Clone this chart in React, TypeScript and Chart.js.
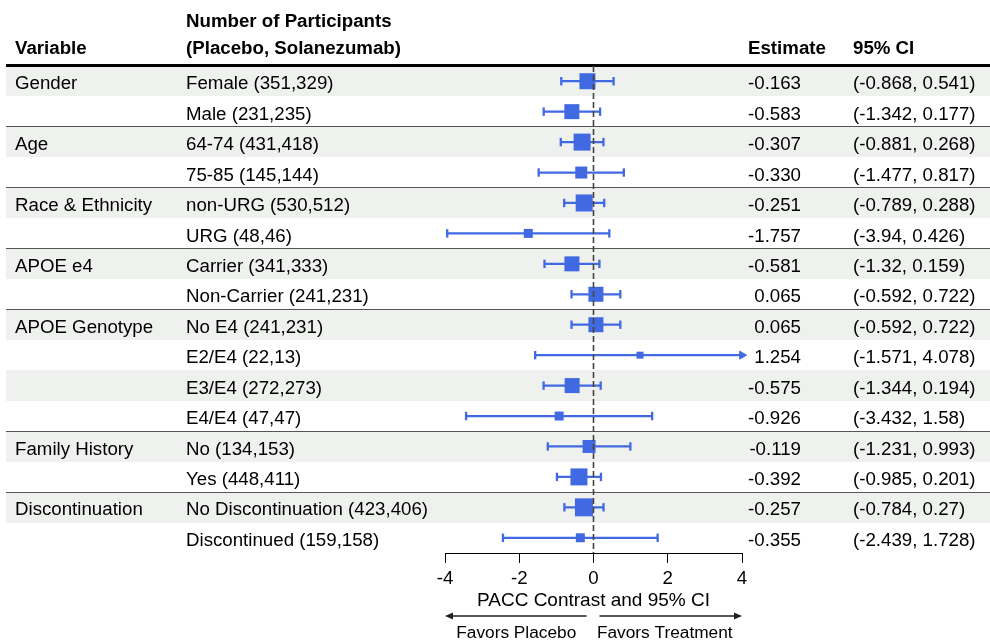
import React, { useEffect, useRef } from "react";
import { Chart, registerables } from "chart.js";

Chart.register(...registerables);

// ---------- data ----------
const variables = [
  "Gender", "",
  "Age", "",
  "Race & Ethnicity", "",
  "APOE e4", "",
  "APOE Genotype", "", "", "",
  "Family History", "",
  "Discontinuation", "",
];
const subgroups = [
  "Female (351,329)", "Male (231,235)",
  "64-74 (431,418)", "75-85 (145,144)",
  "non-URG (530,512)", "URG (48,46)",
  "Carrier (341,333)", "Non-Carrier (241,231)",
  "No E4 (241,231)", "E2/E4 (22,13)", "E3/E4 (272,273)", "E4/E4 (47,47)",
  "No (134,153)", "Yes (448,411)",
  "No Discontinuation (423,406)", "Discontinued (159,158)",
];
const estimates = [
  -0.163, -0.583,
  -0.307, -0.33,
  -0.251, -1.757,
  -0.581, 0.065,
  0.065, 1.254, -0.575, -0.926,
  -0.119, -0.392,
  -0.257, -0.355,
];
const lower = [
  -0.868, -1.342,
  -0.881, -1.477,
  -0.789, -3.94,
  -1.32, -0.592,
  -0.592, -1.571, -1.344, -3.432,
  -1.231, -0.985,
  -0.784, -2.439,
];
const upper = [
  0.541, 0.177,
  0.268, 0.817,
  0.288, 0.426,
  0.159, 0.722,
  0.722, 4.078, 0.194, 1.58,
  0.993, 0.201,
  0.27, 1.728,
];
const xTicks = [-4, -2, 0, 2, 4];
const xTitle = "PACC Contrast and 95% CI";
const favorsLeft = "Favors Placebo";
const favorsRight = "Favors Treatment";
const headers = {
  variable: "Variable",
  participants1: "Number of Participants",
  participants2: "(Placebo, Solanezumab)",
  estimate: "Estimate",
  ci: "95% CI",
};

// ---------- styles ----------
const markerSide = [16, 15, 17, 12, 17, 9, 15, 15, 15, 7, 15, 9, 13, 17, 18, 9];
const BLUE = "#4169E1";
const BAND = "#eef1ee";
const FONT = '"Liberation Sans", Arial, Helvetica, sans-serif';
const FS = 18.7;
const X_MIN = -4;
const X_MAX = 4;

const tablePlugin = {
  id: "forestTable",
  beforeDraw(chart: any) {
    const { ctx } = chart;
    const y = chart.scales.y;
    ctx.save();
    ctx.fillStyle = "#ffffff";
    ctx.fillRect(0, 0, chart.width, chart.height);
    // bands
    ctx.fillStyle = BAND;
    for (let i = 0; i < subgroups.length; i += 2) {
      const t = Math.round(y.getPixelForValue(i - 0.5));
      const b = Math.round(y.getPixelForValue(i + 0.5));
      ctx.fillRect(6, t, chart.width - 6, b - t);
    }
    // group separators
    ctx.strokeStyle = "#555555";
    ctx.lineWidth = 1;
    for (let i = 1; i < variables.length; i++) {
      if (variables[i] !== "") {
        const py = Math.floor(y.getPixelForValue(i - 0.5)) + 0.5;
        ctx.beginPath();
        ctx.moveTo(6, py);
        ctx.lineTo(chart.width, py);
        ctx.stroke();
      }
    }
    // header rule
    const hy = y.getPixelForValue(-0.5) - 0.5;
    ctx.strokeStyle = "#000000";
    ctx.lineWidth = 3;
    ctx.beginPath();
    ctx.moveTo(6, hy);
    ctx.lineTo(chart.width, hy);
    ctx.stroke();
    ctx.restore();
  },
  afterDatasetsDraw(chart: any) {
    const { ctx } = chart;
    const y = chart.scales.y;
    const x = chart.scales.x;
    const area = chart.chartArea;
    ctx.save();
    // zero reference line
    const zx = x.getPixelForValue(0);
    ctx.strokeStyle = "#444444";
    ctx.lineWidth = 1.6;
    ctx.setLineDash([6, 3]);
    ctx.beginPath();
    ctx.moveTo(zx, area.top);
    ctx.lineTo(zx, area.bottom);
    ctx.stroke();
    ctx.setLineDash([]);

    // header text
    ctx.fillStyle = "#000000";
    ctx.textBaseline = "alphabetic";
    ctx.font = `bold ${FS}px ${FONT}`;
    ctx.textAlign = "left";
    ctx.fillText(headers.participants1, 186, 26.7);
    ctx.fillText(headers.variable, 15, 54.3);
    ctx.fillText(headers.participants2, 186, 54.3);
    ctx.fillText(headers.estimate, 748, 54.3);
    ctx.fillText(headers.ci, 853, 54.3);

    // rows
    ctx.font = `${FS}px ${FONT}`;
    for (let i = 0; i < subgroups.length; i++) {
      const by = y.getPixelForValue(i) + 8.1;
      ctx.textAlign = "left";
      if (variables[i]) ctx.fillText(variables[i], 15, by);
      ctx.fillText(subgroups[i], 186, by);
      ctx.fillText(`(${String(lower[i])}, ${String(upper[i])})`, 853, by);
      ctx.textAlign = "right";
      ctx.fillText(estimates[i].toFixed(3), 801, by);
    }

    // axis title
    ctx.textAlign = "center";
    ctx.font = `19px ${FONT}`;
    ctx.fillText(xTitle, (x.left + x.right) / 2, 605.5);

    // favors arrows
    const ay = 616;
    ctx.strokeStyle = "#222222";
    ctx.fillStyle = "#222222";
    ctx.lineWidth = 1.5;
    const arrow = (from: number, to: number) => {
      const dir = Math.sign(to - from);
      ctx.beginPath();
      ctx.moveTo(from, ay);
      ctx.lineTo(to - dir * 6, ay);
      ctx.stroke();
      ctx.beginPath();
      ctx.moveTo(to, ay);
      ctx.lineTo(to - dir * 8, ay - 3.5);
      ctx.lineTo(to - dir * 8, ay + 3.5);
      ctx.closePath();
      ctx.fill();
    };
    arrow(zx - 7, x.getPixelForValue(X_MIN));
    arrow(zx + 6, x.getPixelForValue(X_MAX));
    ctx.fillStyle = "#000000";
    ctx.font = `17.3px ${FONT}`;
    ctx.textAlign = "center";
    ctx.fillText(favorsLeft, (x.getPixelForValue(X_MIN) + zx) / 2 - 3, 637.5);
    ctx.fillText(favorsRight, (x.getPixelForValue(X_MAX) + zx) / 2 - 3, 637.5);
    ctx.restore();
  },
};

export default function App() {
  const ref = useRef<HTMLCanvasElement | null>(null);
  useEffect(() => {
    if (!ref.current) return;
    const rows = subgroups.map((_, i) => i);
    const squares = rows.map((i) => ({ x: estimates[i], y: i }));
    const whiskers: any[] = [];
    rows.forEach((i) => {
      const hiClipped = upper[i] > X_MAX;
      whiskers.push({ x: Math.max(lower[i], X_MIN), y: i, arrow: lower[i] < X_MIN, side: -1 });
      whiskers.push({ x: Math.min(upper[i], X_MAX), y: i, arrow: hiClipped, side: 1 });
      whiskers.push({ x: NaN, y: NaN });
    });
    const chart = new Chart(ref.current, {
      type: "scatter",
      data: {
        datasets: [
          {
            type: "scatter",
            data: squares,
            order: 0,
            pointStyle: "rect",
            pointRadius: (c: any) => markerSide[c.dataIndex] / Math.SQRT2,
            pointHoverRadius: (c: any) => markerSide[c.dataIndex] / Math.SQRT2,
            backgroundColor: BLUE,
            borderColor: BLUE,
            borderWidth: 0,
            clip: false,
          } as any,
          {
            type: "line",
            data: whiskers,
            order: 1,
            showLine: true,
            spanGaps: false,
            borderColor: BLUE,
            borderWidth: 2.3,
            pointStyle: (c: any) => (c.raw && c.raw.arrow ? "triangle" : "line"),
            rotation: (c: any) => (c.raw && c.raw.arrow ? 90 * (c.raw.side || 1) : 90),
            pointRadius: (c: any) => (c.raw && c.raw.arrow ? 4.6 : 4.2),
            pointHoverRadius: (c: any) => (c.raw && c.raw.arrow ? 4.6 : 4.2),
            pointBorderWidth: (c: any) => (c.raw && c.raw.arrow ? 1 : 2.3),
            pointBackgroundColor: BLUE,
            pointBorderColor: BLUE,
            clip: false,
          } as any,
        ],
      },
      options: {
        animation: false,
        responsive: false,
        devicePixelRatio: 1,
        layout: { padding: { left: 445, right: 248, top: 66, bottom: 0 } },
        plugins: { legend: { display: false }, tooltip: { enabled: false }, title: { display: false } },
        events: [],
        scales: {
          x: {
            type: "linear",
            min: X_MIN,
            max: X_MAX,
            afterBuildTicks: (scale: any) => {
              scale.ticks = xTicks.map((v) => ({ value: v }));
            },
            afterFit: (scale: any) => {
              scale.height = 89;
            },
            grid: {
              drawOnChartArea: false,
              drawTicks: true,
              tickLength: 10,
              color: "#000000",
              lineWidth: 1,
            },
            border: { display: true, color: "#000000", width: 1 },
            ticks: {
              color: "#000000",
              padding: 5,
              maxRotation: 0,
              font: { family: FONT, size: FS },
              callback: (v: any) => String(v),
            },
          },
          y: {
            type: "linear",
            min: -0.5,
            max: subgroups.length - 0.5,
            reverse: true,
            display: false,
          },
        },
      } as any,
      plugins: [tablePlugin],
    });
    return () => chart.destroy();
  }, []);
  return (
    <div style={{ position: "fixed", left: 0, top: 0, width: 990, height: 642, background: "#fff" }}>
      <canvas ref={ref} width={990} height={642} style={{ display: "block" }} />
    </div>
  );
}
